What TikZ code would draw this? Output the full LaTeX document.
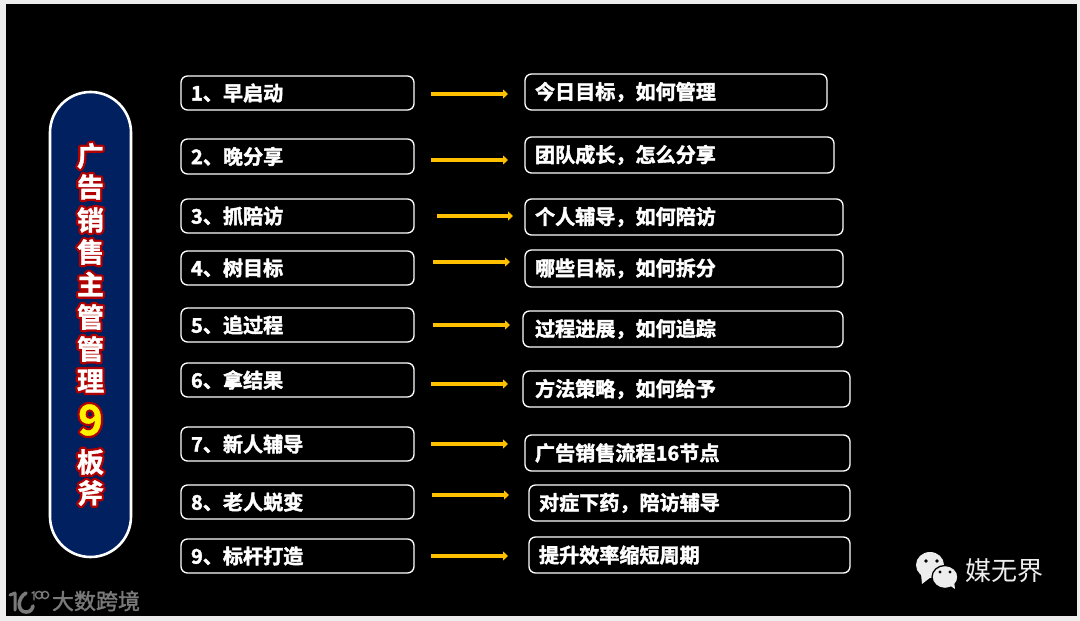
\documentclass[tikz,border=0pt]{standalone}
\usepackage{fontspec}
\usetikzlibrary{arrows.meta}
\setmainfont{Noto Sans CJK SC}
\newfontfamily\cjkb{Noto Sans CJK SC Bold}
\newfontfamily\cjkr{Noto Sans CJK SC}
\definecolor{panelblue}{HTML}{002060}
\definecolor{glowred}{HTML}{B00000}
\definecolor{arrowgold}{HTML}{FFC000}
\definecolor{markgray}{HTML}{7A7A7A}
\definecolor{pagegray}{HTML}{EDEDED}
% glyph outlines stroked as well as filled
\newcommand{\strk}[2]{\special{pdf:code q 2 Tr #1 w 1 j 1 J #2 RG}}
\newcommand{\unstrk}{\special{pdf:code Q 0 Tr}}
% halo: a thickly stroked layer under the glyph itself
\newcommand{\glowch}[4]{{\cjkb\fontsize{#2}{#2}\selectfont
  \rlap{\color{glowred}\strk{5}{0.69 0 0}#1\unstrk}\color{#3}\strk{0.35}{#4}#1\unstrk}}
\newcommand{\fat}[1]{\strk{0.4}{1 1 1}#1\unstrk}
\newcommand{\fatgray}[1]{\strk{0.35}{0.478 0.478 0.478}#1\unstrk}
\tikzset{
  itembox/.style={draw=white,line width=1.3pt,rounded corners=6.5pt,fill=black,text=white,
    font=\cjkb\fontsize{20.1}{24}\selectfont,anchor=north west,inner ysep=0pt,outer sep=0pt,align=left},
  flowarrow/.style={draw=arrowgold,line width=3.4pt,-{Triangle[length=5pt,width=9pt]}},
  pillchar/.style={inner sep=0pt,outer sep=0pt}
}
\begin{document}
\begin{tikzpicture}[x=1pt,y=-1pt]
\useasboundingbox (0,0) rectangle (1080,621);
\fill[pagegray] (0,0) rectangle (1080,621);
\fill[black] (6,4) rectangle (1077,616);
% pill
\draw[draw=white,line width=2.6pt,fill=panelblue,rounded corners=40.5pt] (50,92) rectangle (131,557);
\foreach \c/\y/\n in {广/156/a,告/187/b,销/220/c,售/252/d,主/284/e,管/317/f,管/349/g,理/381/h,板/462/j,斧/493/k}
  \node[pillchar] (p\n) at (90.5,\y) {\glowch{\c}{27}{white}{1 1 1}};
\node[pillchar] (pnine) at (90.5,420) {\glowch{9}{42}{yellow}{1 1 0}};
% left boxes
\foreach \i/\y/\h/\t in {
 1/76/34/{1、早启动},2/139/35/{2、晚分享},3/199/34/{3、抓陪访},4/251/34/{4、树目标},
 5/308/34/{5、追过程},6/363/34/{6、拿结果},7/427/34/{7、新人辅导},8/485/34/{8、老人蜕变},9/539/34/{9、标杆打造}}
  \node[itembox,inner xsep=10pt,text width=213pt,minimum height=\h pt] (l\i) at (181,\y) {\raisebox{-1pt}{\fat{\t}}};
% right boxes
\foreach \i/\x/\y/\w/\h/\p/\t in {
 1/525/74/302/36/10/{今日目标，如何管理},
 2/525/137/309/36/10/{团队成长，怎么分享},
 3/525/199/318/36/10/{个人辅导，如何陪访},
 4/525/250/318/37/10/{哪些目标，如何拆分},
 5/523/311/320/36/12/{过程进展，如何追踪},
 6/523/371/327/36/12/{方法策略，如何给予},
 7/525/435/325/36/10/{广告销售流程16节点},
 8/529/485/321/36/10/{对症下药，陪访辅导},
 9/529/537/321/36/10/{提升效率缩短周期}}
{
  \pgfmathsetmacro{\tw}{\w-2*\p}
  \node[itembox,inner xsep=\p pt,text width=\tw pt,minimum height=\h pt] (r\i) at (\x,\y) {\raisebox{-1pt}{\fat{\t}}};
}
% arrows
\foreach \i/\xa/\xb/\y in {1/431/508/94,2/431/508/160,3/437/513/216,4/433/510/262,5/433/510/325,6/431/508/384,7/431/508/444,8/432/509/495,9/431/508/556}
{
  \coordinate (s\i) at (\xa,\y);
  \coordinate (e\i) at (\xb,\y);
  \draw[flowarrow] (s\i) -- (e\i);
}
% watermark left
\draw[markgray,line width=3pt,line cap=round,line join=round] (10,595) -- (15,593) -- (15,610);
\draw[markgray,line width=3.6pt,line cap=round] (26,593) .. controls (17,598) and (17,612) .. (26,612) .. controls (30,612) and (32,610) .. (33,606);
\draw[markgray,line width=1.4pt,line cap=round] (32,593) -- (34,592) -- (34,600);
\draw[markgray,line width=1.4pt] (39,595) circle (3.6pt) (45,595) circle (3.6pt);
\node[inner sep=0pt,text=markgray,font=\cjkr\fontsize{22}{26}\selectfont,anchor=center] (wm) at (96,601) {\fatgray{大数跨境}};
% wechat mark
\fill[pagegray] (930,565) ellipse (14pt and 13pt);
\fill[pagegray] (921,574) -- (922,584) -- (931,577) -- cycle;
\fill[black] (926,561) circle (1.8pt) (937,561) circle (1.8pt);
\filldraw[fill=pagegray,draw=black,line width=1.3pt] (945,577) ellipse (13pt and 11.5pt);
\fill[pagegray] (949,585) -- (955,589) -- (954,581) -- cycle;
\fill[black] (940,572) circle (1.6pt) (950,572) circle (1.6pt);
\node[inner sep=0pt,text=pagegray,font=\cjkr\fontsize{26}{30}\selectfont,anchor=center] (wx) at (1004,571) {媒无界};
\end{tikzpicture}
\end{document}
